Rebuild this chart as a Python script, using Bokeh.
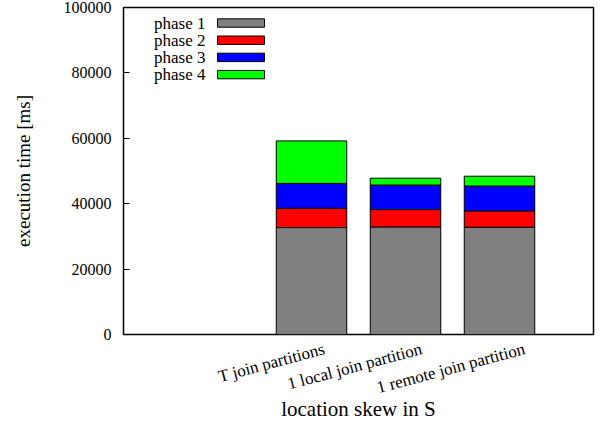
import math
from bokeh.plotting import figure
from bokeh.models import (ColumnDataSource, Range1d, FixedTicker, BasicTickFormatter,
                          Label, BoxAnnotation)
from bokeh.embed import file_html
from bokeh.resources import INLINE

# ---- data ----
categories = ["T join partitions", "1 local join partition", "1 remote join partition"]
phase_names = ["phase 1", "phase 2", "phase 3", "phase 4"]
phase1 = [32700, 32900, 32800]
phase2 = [5900, 5300, 5000]
phase3 = [7600, 7500, 7600]
phase4 = [13000, 2100, 3000]
y_ticks = [0, 20000, 40000, 60000, 80000, 100000]
colors = ["#808080", "#ff0000", "#0000ff", "#00ff00"]

x_pos = [i + 1 for i in range(len(categories))]
src = ColumnDataSource(dict(x=x_pos, p1=phase1, p2=phase2, p3=phase3, p4=phase4))

FONT = "Liberation Serif"

p = figure(width=601, height=425, output_backend="svg", toolbar_location=None,
           x_range=Range1d(-1, 4), y_range=Range1d(0, 100000),
           min_border_left=123, min_border_right=8, min_border_top=7, min_border_bottom=91)
p.styles = {"position": "absolute", "left": "0px", "top": "0px"}
p.background_fill_color = "white"
p.border_fill_color = "white"
p.outline_line_color = "black"
p.outline_line_width = 1.5
p.outline_line_alpha = 1.0
p.xgrid.visible = False
p.ygrid.visible = False

p.vbar_stack(["p1", "p2", "p3", "p4"], x="x", width=0.75, source=src,
             fill_color=colors, line_color="black", line_width=1)

# y axis
ya = p.yaxis[0]
ya.ticker = FixedTicker(ticks=y_ticks)
ya.formatter = BasicTickFormatter(use_scientific=False)
ya.axis_line_color = None
ya.major_tick_in = 6
ya.major_tick_out = 0
ya.major_tick_line_color = "black"
ya.minor_tick_in = 0
ya.minor_tick_out = 0
ya.major_label_standoff = 12
ya.major_label_text_font = FONT
ya.major_label_text_font_size = "16px"
ya.major_label_text_color = "black"
ya.axis_label = "execution time [ms]"
ya.axis_label_text_font = FONT
ya.axis_label_text_font_size = "19px"
ya.axis_label_text_font_style = "normal"
ya.axis_label_text_color = "black"
ya.axis_label_standoff = 27

# x axis: rotated category labels, right-aligned just right of each bar centre
px_per_unit = 470 / 5.0
label_offsets_px = [13, 16, 25]  # gnuplot-like per-label placement (style only)
tick_locs = [xv + o / px_per_unit for xv, o in zip(x_pos, label_offsets_px)]
xa = p.xaxis[0]
xa.ticker = FixedTicker(ticks=tick_locs)
xa.major_label_overrides = {t: c for t, c in zip(tick_locs, categories)}
xa.major_label_orientation = math.radians(15)
xa.axis_line_color = None
xa.major_tick_in = 0
xa.major_tick_out = 0
xa.minor_tick_in = 0
xa.minor_tick_out = 0
xa.major_label_standoff = 14
xa.major_label_text_font = FONT
xa.major_label_text_font_size = "17px"
xa.major_label_text_color = "black"
xa.axis_label = "location skew in S"
xa.axis_label_text_font = FONT
xa.axis_label_text_font_size = "21px"
xa.axis_label_text_font_style = "normal"
xa.axis_label_text_color = "black"
xa.axis_label_standoff = -12

# legend (gnuplot style: text then swatch), positioned in screen px from frame bottom-left
frame_h = 425 - 7 - 91
for i, (name, c) in enumerate(zip(phase_names, colors)):
    cy = frame_h - (15.5 + 17.2 * i)
    p.add_layout(Label(x=82, y=cy, x_units="screen", y_units="screen", text=name,
                       text_align="right", text_baseline="middle", text_font=FONT,
                       text_font_size="17px", text_color="black"))
    p.add_layout(BoxAnnotation(left=94, right=141, bottom=cy - 4.2, top=cy + 4.2,
                               left_units="screen", right_units="screen",
                               bottom_units="screen", top_units="screen",
                               fill_color=c, fill_alpha=1.0, line_color="black",
                               line_width=1, line_alpha=1.0))

open("out.html", "w").write(file_html(p, INLINE))
